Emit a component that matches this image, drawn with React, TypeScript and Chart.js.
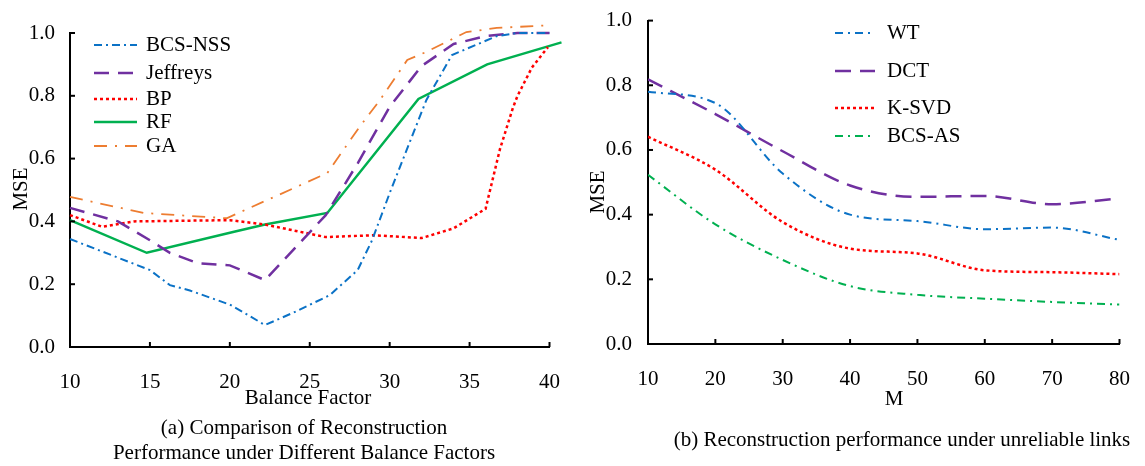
import React, { useEffect, useRef } from "react";
import { Chart, registerables } from "chart.js";

Chart.register(...registerables);

const FONT = "'Liberation Serif', 'Times New Roman', serif";

// ---------- Left chart (a): MSE vs Balance Factor ----------
const balanceTicks = [10, 15, 20, 25, 30, 35, 40];

const bcsNssX = [10, 15, 16.25, 17.5, 20, 22.2, 24, 26.25, 28, 28.9, 30, 32.3, 33.9, 36.7, 38, 40];
const bcsNssY = [0.344, 0.245, 0.197, 0.18, 0.135, 0.07, 0.11, 0.165, 0.245, 0.34, 0.49, 0.787, 0.93, 0.99, 1.0, 1.0];

const jeffreysX = [10, 13, 15, 16.25, 18, 20, 22.2, 26, 28, 30, 32, 34, 36, 38, 40];
const jeffreysY = [0.443, 0.4, 0.34, 0.3, 0.267, 0.26, 0.213, 0.42, 0.585, 0.765, 0.895, 0.965, 0.99, 1.0, 1.0];

const bpX = [10, 12, 14, 20, 22.2, 26, 29, 32, 34, 36, 36.9, 37.7, 38, 38.9, 39.9];
const bpY = [0.42, 0.383, 0.4, 0.404, 0.39, 0.35, 0.356, 0.347, 0.378, 0.44, 0.63, 0.76, 0.8, 0.89, 0.955];

const rfX = [10, 14.8, 20.2, 22.2, 26.1, 31.8, 36.1, 40.75];
const rfY = [0.404, 0.3, 0.366, 0.39, 0.427, 0.79, 0.9, 0.97];

const gaX = [10, 14.6, 19.8, 26.1, 28.1, 29.4, 31.1, 32.3, 34.8, 36.7, 40.1];
const gaY = [0.478, 0.427, 0.41, 0.554, 0.7, 0.787, 0.914, 0.94, 1.003, 1.016, 1.025];

// ---------- Right chart (b): MSE vs M ----------
const mValues = [10, 20, 30, 40, 50, 60, 70, 80];
const wtY = [0.78, 0.745, 0.527, 0.4, 0.38, 0.355, 0.36, 0.322];
const dctY = [0.818, 0.711, 0.596, 0.49, 0.455, 0.458, 0.432, 0.45];
const ksvdY = [0.641, 0.539, 0.377, 0.295, 0.28, 0.228, 0.222, 0.216];
const bcsAsY = [0.523, 0.37, 0.26, 0.179, 0.152, 0.14, 0.13, 0.122];

const BLUE = "#0B72C6";
const PURPLE = "#7030A0";
const RED = "#FF0000";
const GREEN = "#00B050";
const ORANGE = "#ED7D31";

const zip = (xs: number[], ys: number[]) => xs.map((x, i) => ({ x, y: ys[i] }));

type TextItem = { text: string; x: number; y: number; rotate?: boolean };
type DecorCfg = {
  legendRows: number[];
  sampleX0: number;
  sampleX1: number;
  textX: number;
  texts: TextItem[];
};

const makeDecor = (cfg: DecorCfg) => ({
  id: "decor",
  afterDraw(chart: any) {
    const ctx = chart.ctx as CanvasRenderingContext2D;
    const { left, bottom } = chart.chartArea;
    ctx.save();
    // inward tick marks
    ctx.strokeStyle = "#000";
    ctx.lineWidth = 2;
    ctx.setLineDash([]);
    const xs = chart.scales.x;
    xs.ticks.forEach((t: any) => {
      const px = xs.getPixelForValue(t.value);
      ctx.beginPath();
      ctx.moveTo(px, bottom);
      ctx.lineTo(px, bottom - 5);
      ctx.stroke();
    });
    const ys = chart.scales.y;
    ys.ticks.forEach((t: any) => {
      const py = ys.getPixelForValue(t.value);
      ctx.beginPath();
      ctx.moveTo(left, py);
      ctx.lineTo(left + 5, py);
      ctx.stroke();
    });
    // legend
    ctx.font = `21px ${FONT}`;
    ctx.textBaseline = "middle";
    ctx.textAlign = "left";
    chart.data.datasets.forEach((ds: any, i: number) => {
      const y = cfg.legendRows[i];
      ctx.strokeStyle = ds.borderColor;
      ctx.lineWidth = ds.borderWidth;
      ctx.setLineDash(ds.borderDash || []);
      ctx.beginPath();
      ctx.moveTo(cfg.sampleX0, y);
      ctx.lineTo(cfg.sampleX1, y);
      ctx.stroke();
      ctx.fillStyle = "#000";
      ctx.fillText(ds.label, cfg.textX, y);
    });
    ctx.setLineDash([]);
    // titles & captions
    ctx.fillStyle = "#000";
    ctx.textAlign = "center";
    cfg.texts.forEach((t) => {
      if (t.rotate) {
        ctx.save();
        ctx.translate(t.x, t.y);
        ctx.rotate(-Math.PI / 2);
        ctx.fillText(t.text, 0, 0);
        ctx.restore();
      } else {
        ctx.fillText(t.text, t.x, t.y);
      }
    });
    ctx.restore();
  },
});

const tickFont = { family: FONT, size: 21 };

function makeScales(xMin: number, xMax: number, xStep: number, yWidth: number, yPad: number, xPad: number) {
  return {
    x: {
      type: "linear",
      min: xMin,
      max: xMax,
      afterFit: (s: any) => {
        s.height = 80;
      },
      ticks: { stepSize: xStep, color: "#000", font: tickFont, padding: xPad, maxRotation: 0, autoSkip: false },
      grid: { display: false },
      border: { display: true, color: "#000", width: 2 },
    },
    y: {
      min: 0,
      max: 1,
      afterFit: (s: any) => {
        s.width = yWidth;
      },
      ticks: {
        stepSize: 0.2,
        color: "#000",
        font: tickFont,
        padding: yPad,
        callback: (v: any) => Number(v).toFixed(1),
      },
      grid: { display: false },
      border: { display: true, color: "#000", width: 2 },
    },
  };
}

function LeftChart() {
  const ref = useRef<HTMLCanvasElement>(null);
  useEffect(() => {
    const common = { pointRadius: 0, fill: false, clip: false as any, tension: 0 };
    const chart = new Chart(ref.current!, {
      type: "line",
      data: {
        datasets: [
          { ...common, label: "BCS-NSS", data: zip(bcsNssX, bcsNssY), borderColor: BLUE, borderWidth: 2, borderDash: [8, 4, 2, 4] },
          { ...common, label: "Jeffreys", data: zip(jeffreysX, jeffreysY), borderColor: PURPLE, borderWidth: 2.5, borderDash: [15, 9] },
          { ...common, label: "BP", data: zip(bpX, bpY), borderColor: RED, borderWidth: 2.5, borderDash: [3, 3] },
          { ...common, label: "RF", data: zip(rfX, rfY), borderColor: GREEN, borderWidth: 2.5, borderDash: [] },
          { ...common, label: "GA", data: zip(gaX, gaY), borderColor: ORANGE, borderWidth: 1.8, borderDash: [13, 8, 2, 8] },
        ],
      } as any,
      options: {
        responsive: false,
        animation: false,
        layout: { padding: { left: 0, top: 33, right: 25, bottom: 39 } },
        plugins: { legend: { display: false }, tooltip: { enabled: false } },
        scales: makeScales(balanceTicks[0], balanceTicks[balanceTicks.length - 1], 5, 70, 7, 15) as any,
      },
      plugins: [
        makeDecor({
          legendRows: [45, 73, 99, 122, 146],
          sampleX0: 94,
          sampleX1: 137,
          textX: 146,
          texts: [
            { text: "MSE", x: 21, y: 189, rotate: true },
            { text: "Balance Factor", x: 308, y: 398 },
            { text: "(a) Comparison of Reconstruction", x: 304, y: 428 },
            { text: "Performance under Different Balance Factors", x: 304, y: 453 },
          ],
        }),
      ],
    });
    return () => chart.destroy();
  }, []);
  return <canvas ref={ref} width={575} height={466} style={{ position: "absolute", left: 0, top: 0 }} />;
}

function RightChart() {
  const ref = useRef<HTMLCanvasElement>(null);
  useEffect(() => {
    const common = { pointRadius: 0, fill: false, cubicInterpolationMode: "monotone" as const };
    const chart = new Chart(ref.current!, {
      type: "line",
      data: {
        datasets: [
          { ...common, label: "WT", data: zip(mValues, wtY), borderColor: BLUE, borderWidth: 2, borderDash: [8, 5, 2, 5] },
          { ...common, label: "DCT", data: zip(mValues, dctY), borderColor: PURPLE, borderWidth: 2.5, borderDash: [16, 9] },
          { ...common, label: "K-SVD", data: zip(mValues, ksvdY), borderColor: RED, borderWidth: 2.5, borderDash: [3, 3] },
          { ...common, label: "BCS-AS", data: zip(mValues, bcsAsY), borderColor: GREEN, borderWidth: 2, borderDash: [8, 5, 2, 5] },
        ],
      } as any,
      options: {
        responsive: false,
        animation: false,
        layout: { padding: { left: 0, top: 15, right: 13, bottom: 42 } },
        plugins: { legend: { display: false }, tooltip: { enabled: false } },
        scales: makeScales(10, 80, 10, 73, 8, 15) as any,
      },
      plugins: [
        makeDecor({
          legendRows: [33, 71, 108, 136],
          sampleX0: 260,
          sampleX1: 300,
          textX: 312,
          texts: [
            { text: "MSE", x: 23, y: 192, rotate: true },
            { text: "M", x: 319, y: 399 },
            { text: "(b) Reconstruction performance under unreliable links", x: 327, y: 440 },
          ],
        }),
      ],
    });
    return () => chart.destroy();
  }, []);
  return <canvas ref={ref} width={570} height={466} style={{ position: "absolute", left: 575, top: 0 }} />;
}

export default function App() {
  return (
    <div style={{ position: "absolute", left: 0, top: 0, width: 1145, height: 466, background: "#fff" }}>
      <LeftChart />
      <RightChart />
    </div>
  );
}
